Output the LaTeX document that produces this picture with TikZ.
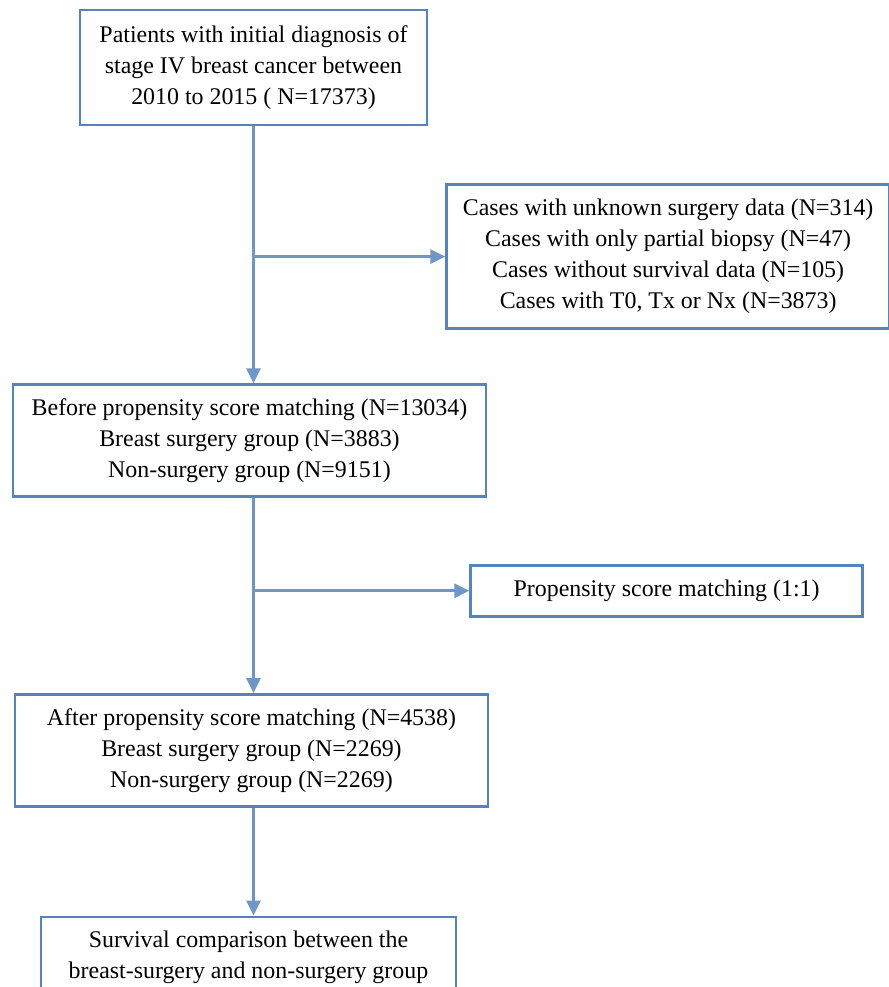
\documentclass[tikz,border=0pt]{standalone}
\usepackage{fontspec}
\setmainfont{Liberation Serif}
\usetikzlibrary{positioning, arrows.meta}
\definecolor{flowblue}{RGB}{84,131,190}

\begin{document}
\begin{tikzpicture}[
	main/.style={rectangle, draw=flowblue, line width=1.5pt, align=center, inner sep=2pt,
		font=\fontsize{13.6}{17.6}\selectfont},
	link/.style={-{Triangle[length=8.5pt,width=8pt]}, draw=flowblue!85, fill=flowblue!85, line width=1.5pt}
	]
	\useasboundingbox (-5.07,1.35) rectangle (12.71,-18.39);

		\node (patients) [main, minimum width=6.94cm, minimum height=2.3cm] at (0,0)
			{Patients with initial diagnosis of\\stage IV breast cancer between\\2010 to 2015 ( N=17373)};
			\node (excluded) [main, minimum width=8.86cm, minimum height=2.88cm, below right=1.14cm and 0.34cm of patients.south east]
				{Cases with unknown surgery data (N=314)\\Cases with only partial biopsy (N=47)\\Cases without survival data (N=105)\\Cases with T0, Tx or Nx (N=3873)};
		\node (before) [main, minimum width=9.46cm, minimum height=2.24cm, below=5.14cm of patients, xshift=-0.08cm]
			{Before propensity score matching (N=13034)\\Breast surgery group (N=3883)\\Non-surgery group (N=9151)};
			\node (psm) [main, minimum width=7.84cm, minimum height=1.02cm, below right=1.32cm and -0.36cm of before.south east]
				{Propensity score matching (1:1)};
		\node (after) [main, minimum width=9.46cm, minimum height=2.24cm, below=3.9cm of before, xshift=0.04cm]
			{After propensity score matching (N=4538)\\Breast surgery group (N=2269)\\Non-surgery group (N=2269)};
		\node (survival) [main, minimum width=8.3cm, minimum height=1.6cm, below=2.16cm of after, xshift=-0.06cm]
			{Survival comparison between the\\breast-surgery and non-surgery group};

	\draw [link] (patients.south) -- (patients.south |- before.north);
	\draw [link] (patients.south |- excluded.west) -- (excluded.west);

	\draw [link] (patients.south |- before.south) -- (patients.south |- after.north);
	\draw [link] (patients.south |- psm.west) -- (psm.west);

	\draw [link] (patients.south |- after.south) -- (patients.south |- survival.north);
\end{tikzpicture}
\end{document}
